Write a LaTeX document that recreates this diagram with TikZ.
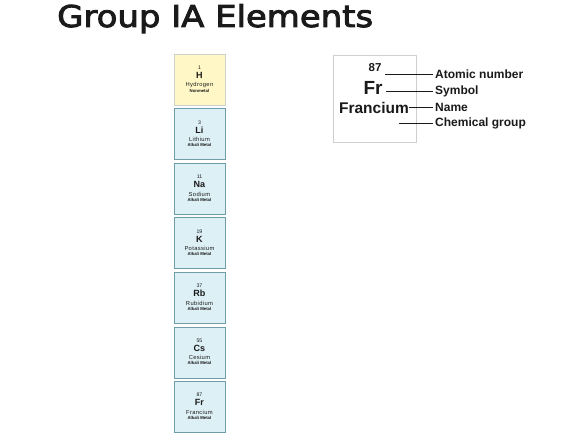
\documentclass[tikz,border=0pt]{standalone}
\usepackage{fontspec}
\setmainfont{Liberation Sans}
\newfontfamily\titlefont[FakeStretch=1.13]{DejaVu Sans}
\newfontfamily\spacedfont[LetterSpace=6]{Liberation Sans}
\definecolor{alkfill}{HTML}{DDF0F6}
\definecolor{alkdraw}{HTML}{6F9DAA}
\definecolor{hfill}{HTML}{FFF8C6}
\definecolor{hdraw}{HTML}{CFCFCF}
\definecolor{txt}{HTML}{1A1A1A}
\newcommand{\heavytext}[1]{\special{pdf:literal direct 2 Tr 0.9 w}#1\special{pdf:literal direct 0 Tr}}
\begin{document}
\begin{tikzpicture}[x=1pt,y=-1pt,
  elbox/.style={draw=alkdraw,fill=alkfill,line width=0.9pt,minimum width=51pt,minimum height=51pt,anchor=north west,inner sep=0pt},
  hbox/.style={elbox,draw=hdraw,fill=hfill},
  num/.style={font=\fontsize{5.2}{5.2}\selectfont,text=txt,inner sep=0pt},
  sym/.style={font=\fontsize{9}{9}\selectfont\bfseries,text=txt,inner sep=0pt},
  nam/.style={font=\spacedfont\fontsize{5.8}{5.8}\selectfont,text=txt,inner sep=0pt},
  grp/.style={font=\fontsize{4.3}{4.3}\selectfont\bfseries,text=txt,inner sep=0pt},
  lbl/.style={font=\fontsize{12}{12}\selectfont\bfseries,text=txt,anchor=west,inner sep=0pt},
  conn/.style={draw=txt,line width=0.6pt}]
\useasboundingbox (0,0) rectangle (563,441);
\node[anchor=base west,inner sep=0pt,font=\titlefont\fontsize{30}{30}\selectfont,text=txt] (title) at (57,27) {\heavytext{Group IA Elements}};
% element boxes
\foreach \n/\t/\z/\s/\nm/\g/\st in {
  h/54/1/H/Hydrogen/Nonmetal/hbox,
  li/108.5/3/Li/Lithium/Alkali Metal/elbox,
  na/163/11/Na/Sodium/Alkali Metal/elbox,
  k/217.5/19/K/Potassium/Alkali Metal/elbox,
  rb/272/37/Rb/Rubidium/Alkali Metal/elbox,
  cs/326.5/55/Cs/Cesium/Alkali Metal/elbox,
  fr/381/87/Fr/Francium/Alkali Metal/elbox}{
  \node[\st] (\n) at (173.5,\t) {};
  \node[num] (\n-z) at ([yshift=-14pt]\n.north) {\z};
  \node[sym] (\n-s) at ([yshift=-21.5pt]\n.north) {\s};
  \node[nam] (\n-n) at ([yshift=-31pt]\n.north) {\nm};
  \node[grp] (\n-g) at ([yshift=-36.5pt]\n.north) {\g};
}
% legend
\node[draw=hdraw,fill=white,line width=0.9pt,minimum width=83pt,minimum height=87pt,anchor=north west,inner sep=0pt] (leg) at (333,55) {};
\node[font=\fontsize{11.5}{11.5}\selectfont\bfseries,text=txt,inner sep=0pt] (lz) at (375,67.5) {87};
\node[font=\fontsize{19}{19}\selectfont\bfseries,text=txt,inner sep=0pt] (ls) at (373,88) {Fr};
\node[font=\fontsize{15.5}{15.5}\selectfont\bfseries,text=txt,inner sep=0pt] (ln) at (374,107.5) {Francium};
\coordinate (cz) at (385,74);
\coordinate (cs) at (386,91);
\coordinate (cn) at (ln.east);
\coordinate (cg) at (399,123);
\node[lbl] (tz) at (435,74) {Atomic number};
\node[lbl] (ts) at (435,91) {Symbol};
\node[lbl] (tn) at (435,107) {Name};
\node[lbl] (tg) at (435,123) {Chemical group};
\draw[conn] (cz) -- ([xshift=-2pt]tz.west);
\draw[conn] (cs) -- ([xshift=-2pt]ts.west);
\draw[conn] (cn |- tn.west) -- ([xshift=-2pt]tn.west);
\draw[conn] (cg) -- ([xshift=-2pt]tg.west);
\end{tikzpicture}
\end{document}
